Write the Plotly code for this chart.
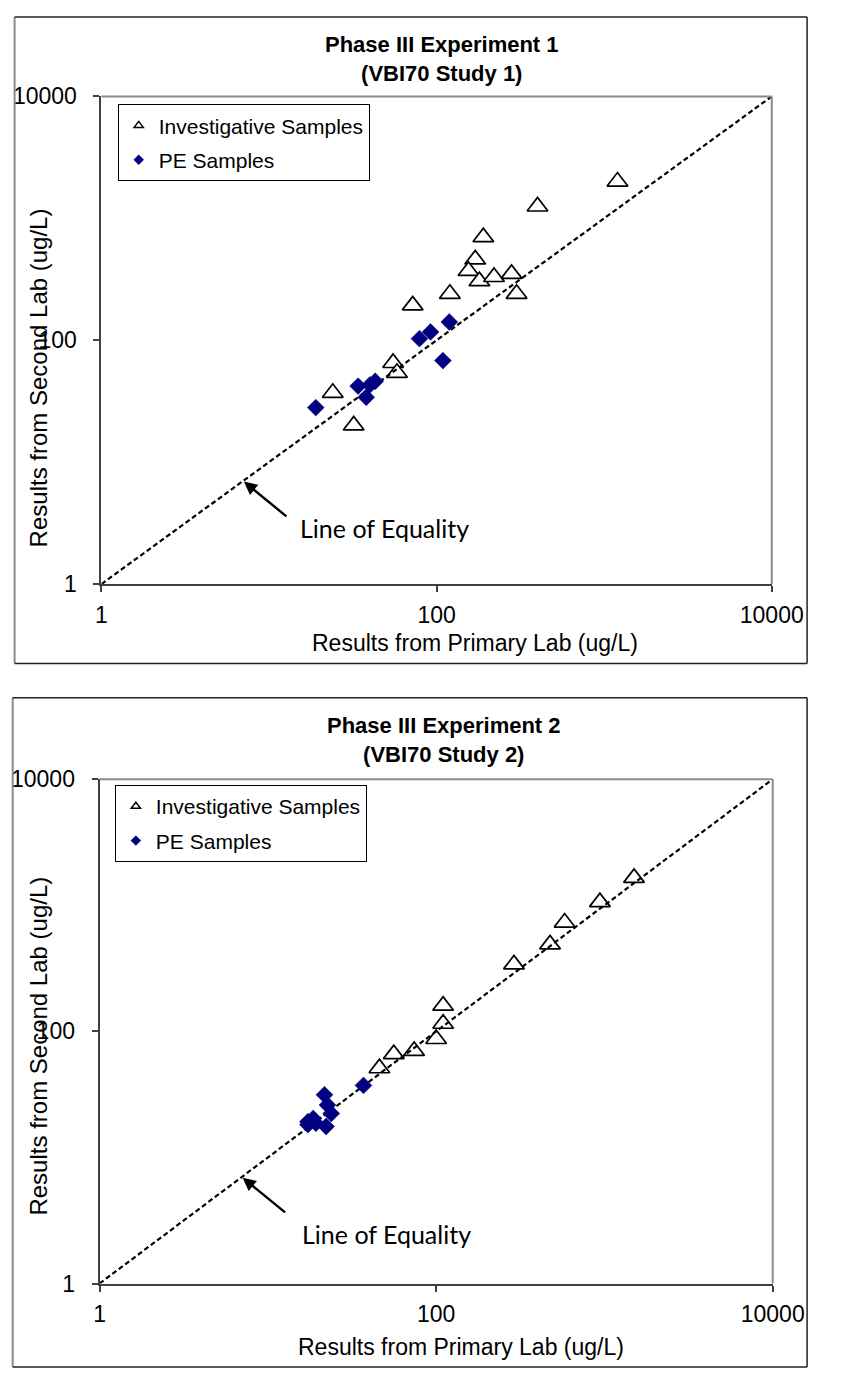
import plotly.graph_objects as go

W, H = 841, 1376

# ---------------- data ----------------
# Phase III Experiment 1
exp1_inv_primary = [1200, 400, 190, 170, 155, 180, 220, 280, 300, 120, 72, 55, 58, 24, 32]
exp1_inv_second = [2000, 1250, 700, 460, 370, 305, 330, 350, 240, 240, 193, 65, 54, 37, 20]
exp1_pe_primary = [19, 34, 38, 40, 43, 79, 92, 119, 109]
exp1_pe_second = [28, 42, 34, 43, 46, 103, 117, 141, 68]

# Phase III Experiment 2
exp2_inv_primary = [1500, 940, 580, 475, 290, 110, 110, 100, 74, 56, 46]
exp2_inv_second = [1650, 1060, 730, 490, 340, 160, 115, 87, 70, 66, 51]
exp2_pe_primary = [37, 21.7, 22.6, 23.8, 18.6, 17.3, 17.3, 22.2, 19.3]
exp2_pe_second = [37.3, 31.4, 26.1, 22.3, 20.4, 19.2, 18.2, 17.6, 18.7]

equality_line = [1, 10000]
tick_values = [1, 100, 10000]
tick_labels = ["1", "100", "10000"]

titles = ["<b>Phase III Experiment 1</b><br><b>(VBI70 Study 1)</b>",
          "<b>Phase III Experiment 2</b><br><b>(VBI70 Study 2)</b>"]
x_title = "Results from Primary Lab (ug/L)"
y_title = "Results from Second Lab (ug/L)"
series_names = ["Investigative Samples", "PE Samples"]

NAVY = "#000080"
FONT = "Arial, Liberation Sans, sans-serif"


def px(x):
    return x / W


def py(y):
    return 1 - y / H


fig = go.Figure()

panels = [
    dict(xa="x", ya="y", legend="legend", inv=(exp1_inv_primary, exp1_inv_second),
         pe=(exp1_pe_primary, exp1_pe_second)),
    dict(xa="x2", ya="y2", legend="legend2", inv=(exp2_inv_primary, exp2_inv_second),
         pe=(exp2_pe_primary, exp2_pe_second)),
]

for p in panels:
    # legend-only entries (small symbols like the original)
    fig.add_trace(go.Scatter(x=[None], y=[None], mode="markers", name=series_names[0],
                             marker=dict(symbol="triangle-up-open", size=8, color="black",
                                         line=dict(width=1.5, color="black")),
                             xaxis=p["xa"], yaxis=p["ya"], legend=p["legend"],
                             legendgroup=p["legend"] + "a"))
    fig.add_trace(go.Scatter(x=[None], y=[None], mode="markers", name=series_names[1],
                             marker=dict(symbol="diamond", size=8, color=NAVY),
                             xaxis=p["xa"], yaxis=p["ya"], legend=p["legend"],
                             legendgroup=p["legend"] + "b"))
    # investigative samples
    fig.add_trace(go.Scatter(x=p["inv"][0], y=p["inv"][1], mode="markers", showlegend=False,
                             marker=dict(symbol="triangle-up", size=18, color="white",
                                         line=dict(width=1.7, color="black")),
                             xaxis=p["xa"], yaxis=p["ya"], cliponaxis=False))
    # line of equality
    fig.add_trace(go.Scatter(x=equality_line, y=equality_line, mode="lines", showlegend=False,
                             line=dict(color="black", width=2.2, dash="5px,3px"),
                             xaxis=p["xa"], yaxis=p["ya"]))
    # PE samples
    fig.add_trace(go.Scatter(x=p["pe"][0], y=p["pe"][1], mode="markers", showlegend=False,
                             marker=dict(symbol="diamond", size=13, color=NAVY,
                                         line=dict(width=0.5, color=NAVY)),
                             xaxis=p["xa"], yaxis=p["ya"], cliponaxis=False))

axis_common = dict(type="log", range=[0, 4], tickvals=tick_values, ticktext=tick_labels,
                   showgrid=False, zeroline=False, showline=True, linecolor="#404040",
                   linewidth=2, ticks="outside", ticklen=6, tickwidth=1.5, tickcolor="#404040",
                   tickfont=dict(family=FONT, size=23, color="black"))

legend_common = dict(xanchor="left", yanchor="top", bgcolor="white", bordercolor="black",
                     borderwidth=1, font=dict(family=FONT, size=21, color="black"),
                     traceorder="grouped", tracegroupgap=4, itemwidth=30)

fig.update_layout(
    width=W, height=H,
    margin=dict(l=0, r=0, t=0, b=0),
    paper_bgcolor="white", plot_bgcolor="white",
    showlegend=True,
    xaxis=dict(domain=[px(100), px(802)], anchor="y", ticklabelstandoff=3, **axis_common),
    yaxis=dict(domain=[py(582), py(85)], anchor="x", ticklabelstandoff=12, **axis_common),
    xaxis2=dict(domain=[px(98), px(803)], anchor="y2", ticklabelstandoff=3, **axis_common),
    yaxis2=dict(domain=[py(1295), py(781)], anchor="x2", ticklabelstandoff=12, **axis_common),
    legend=dict(x=px(117), y=py(93), **legend_common),
    legend2=dict(x=px(114), y=py(787), **legend_common),
)

shapes = []
# plot-area top/right borders (grey)
for xr, yr in [("x domain", "y domain"), ("x2 domain", "y2 domain")]:
    shapes.append(dict(type="line", xref=xr, yref=yr, x0=0, x1=1, y0=1, y1=1,
                       line=dict(color="#8c8c8c", width=2)))
    shapes.append(dict(type="line", xref=xr, yref=yr, x0=1, x1=1, y0=0, y1=1,
                       line=dict(color="#8c8c8c", width=2)))
# chart-area frames
for top, bottom, left in [(4, 663, 9), (698, 1380, 7)]:
    shapes.append(dict(type="line", xref="paper", yref="paper", x0=px(left), x1=px(left),
                       y0=py(top), y1=py(bottom), line=dict(color="#8c8c8c", width=2)))
    shapes.append(dict(type="line", xref="paper", yref="paper", x0=px(left), x1=px(839),
                       y0=py(top), y1=py(top), line=dict(color="#222222", width=1.5)))
    shapes.append(dict(type="line", xref="paper", yref="paper", x0=px(left), x1=px(839),
                       y0=py(bottom), y1=py(bottom), line=dict(color="#222222", width=1.5)))
    shapes.append(dict(type="line", xref="paper", yref="paper", x0=px(839), x1=px(839),
                       y0=py(top), y1=py(bottom), line=dict(color="#222222", width=1.5)))
fig.update_layout(shapes=shapes)

ann = []
# titles
for t, (cx, cy) in zip(titles, [(457, 47), (459, 741)]):
    ann.append(dict(text=t, xref="paper", yref="paper", x=px(cx), y=py(cy),
                    xanchor="center", yanchor="middle", showarrow=False,
                    font=dict(family=FONT, size=22, color="black")))
# axis titles
for cx, cy in [(491, 642), (477, 1360)]:
    ann.append(dict(text=x_title, xref="paper", yref="paper", x=px(cx), y=py(cy),
                    xanchor="center", yanchor="middle", showarrow=False,
                    font=dict(family=FONT, size=23, color="black")))
for cx, cy in [(35, 372), (34, 1053)]:
    ann.append(dict(text=y_title, xref="paper", yref="paper", x=px(cx), y=py(cy),
                    xanchor="center", yanchor="middle", showarrow=False, textangle=-90,
                    font=dict(family=FONT, size=24, color="black")))
# line of equality labels + arrows
for xr, yr, (cx, cy) in [("x", "y", (396, 525)), ("x2", "y2", (399, 1245))]:
    ann.append(dict(text="Line of Equality", xref="paper", yref="paper", x=px(cx), y=py(cy),
                    xanchor="center", yanchor="middle", showarrow=False,
                    font=dict(family="Lato, Open Sans, sans-serif", size=25, color="black")))
    ann.append(dict(text="", xref=xr, yref=yr, x=0.85, y=0.84, showarrow=True,
                    ax=44, ay=36, arrowhead=2, arrowsize=1.1, arrowwidth=2.4,
                    arrowcolor="black", standoff=0))
fig.update_layout(annotations=ann)

fig.write_html("out.html")
